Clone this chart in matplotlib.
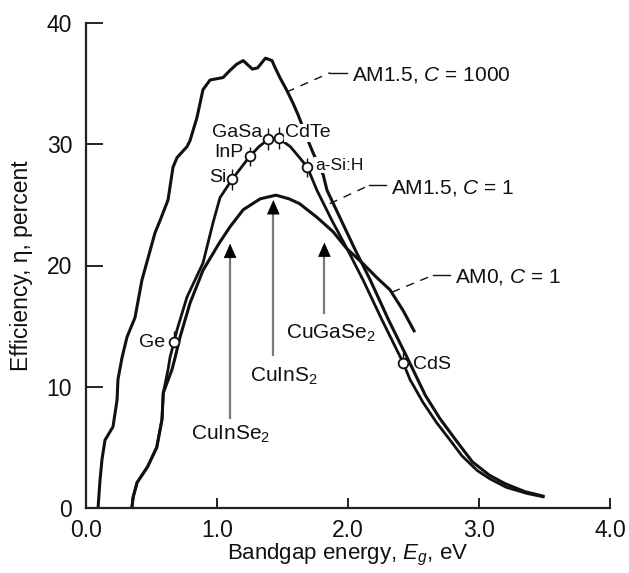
import matplotlib
matplotlib.use('Agg')
import matplotlib.pyplot as plt

plt.rcParams['font.family'] = ['Liberation Sans', 'DejaVu Sans']
plt.rcParams['mathtext.fontset'] = 'custom'
plt.rcParams['mathtext.rm'] = 'Liberation Sans'
plt.rcParams['mathtext.it'] = 'Liberation Sans:italic'
plt.rcParams['mathtext.bf'] = 'Liberation Sans:bold'

# ---------------- data ----------------
# AM1.5, C = 1000 (upper curve)
eg_c1000 = [0.092, 0.107, 0.122, 0.145, 0.206, 0.237, 0.244, 0.275, 0.313, 0.374, 0.427,
            0.527, 0.565, 0.626, 0.664, 0.695, 0.771, 0.794, 0.847, 0.893, 0.947, 1.046,
            1.10, 1.15, 1.20, 1.27, 1.31, 1.37, 1.42, 1.44, 1.48, 1.53, 1.58, 1.62,
            1.695, 1.733, 1.81, 1.84, 2.05, 2.17, 2.31, 2.47, 2.59, 2.70, 2.83, 2.95,
            3.08, 3.20, 3.35, 3.50]
eta_c1000 = [0.0, 2.3, 4.0, 5.6, 6.7, 8.9, 10.6, 12.4, 14.1, 15.7, 18.8,
             22.7, 23.7, 25.4, 28.1, 28.9, 29.8, 30.3, 32.2, 34.5, 35.3, 35.5,
             36.1, 36.6, 36.9, 36.2, 36.3, 37.1, 36.9, 36.4, 35.5, 34.5, 33.4, 32.4,
             30.3, 29.3, 27.5, 26.2, 21.4, 18.8, 15.5, 12.0, 9.3, 7.4, 5.5, 3.8,
             2.7, 2.0, 1.35, 0.95]

# AM1.5, C = 1 (curve with materials)
eg_c1 = [0.35, 0.36, 0.39, 0.47, 0.54, 0.58, 0.59, 0.626, 0.641, 0.672, 0.695, 0.771,
         0.893, 0.969, 1.023, 1.115, 1.25, 1.32, 1.39, 1.47, 1.56, 1.63, 1.69, 1.763,
         1.878, 1.992, 2.115, 2.26, 2.42, 2.473, 2.573, 2.679, 2.779, 2.87, 2.985,
         3.084, 3.21, 3.366, 3.50]
eta_c1 = [0.0, 0.9, 2.1, 3.4, 5.0, 7.3, 9.5, 11.4, 12.4, 13.7, 14.7, 17.4,
          20.2, 23.5, 25.6, 27.1, 29.0, 29.8, 30.4, 30.5, 29.8, 28.9, 28.1, 26.2,
          23.7, 21.4, 18.8, 15.5, 12.0, 10.6, 8.7, 7.0, 5.6, 4.3, 3.1,
          2.4, 1.7, 1.2, 0.9]

# AM0, C = 1
eg_am0 = [0.35, 0.36, 0.39, 0.47, 0.54, 0.58, 0.59, 0.656, 0.68, 0.718, 0.794, 0.893,
          1.02, 1.10, 1.20, 1.33, 1.45, 1.55, 1.63, 1.76, 1.885, 1.99, 2.11, 2.22,
          2.32, 2.42, 2.51]
eta_am0 = [0.0, 0.9, 2.1, 3.4, 5.0, 7.3, 9.5, 11.4, 12.4, 14.1, 16.9, 19.6,
           21.9, 23.2, 24.6, 25.5, 25.8, 25.5, 25.1, 24.0, 22.8, 21.4, 20.2, 19.0,
           18.0, 16.3, 14.5]

# materials on AM1.5, C = 1 curve
materials = ['Ge', 'Si', 'InP', 'GaSa', 'CdTe', 'a-Si:H', 'CdS']
mat_eg = [0.672, 1.115, 1.25, 1.39, 1.47, 1.69, 2.42]
mat_eta = [13.7, 27.1, 29.0, 30.4, 30.5, 28.1, 12.0]
mat_err_low = [0.0, 0.9, 0.8, 0.9, 0.9, 0.8, 0.0]
mat_err_high = [0.9, 0.9, 0.8, 0.9, 0.9, 0.8, 0.9]

# arrows for chalcopyrites
arrow_names = ['CuInSe$_2$', 'CuInS$_2$', 'CuGaSe$_2$']
arrow_eg = [1.10, 1.43, 1.82]
arrow_tip = [21.8, 25.4, 21.9]
arrow_tail = [7.4, 12.6, 16.1]

curve_names = ['AM1.5, $C$ = 1000', 'AM1.5, $C$ = 1', 'AM0, $C$ = 1']

xticks = [0.0, 1.0, 2.0, 3.0, 4.0]
xticklabels = ['0.0', '1.0', '2.0', '3.0', '4.0']
yticks = [0, 10, 20, 30, 40]
yticklabels = ['0', '10', '20', '30', '40']

# ---------------- figure ----------------
W, H = 629, 573
fig = plt.figure(figsize=(W / 100, H / 100), dpi=100)
ax = fig.add_axes([86 / W, 65 / H, 524 / W, 485 / H])
ax.set_xlim(0, 4)
ax.set_ylim(0, 40)

ink = '#111111'
ax.plot(eg_c1000, eta_c1000, color=ink, lw=2.2, clip_on=False, zorder=2,
        solid_joinstyle='round', solid_capstyle='butt')
ax.plot(eg_c1, eta_c1, color=ink, lw=2.0, clip_on=False, zorder=2,
        solid_joinstyle='round', solid_capstyle='butt')
ax.plot(eg_am0, eta_am0, color=ink, lw=2.2, clip_on=False, zorder=2,
        solid_joinstyle='round', solid_capstyle='butt')

# material markers with small vertical bars
ax.errorbar(mat_eg, mat_eta, yerr=[mat_err_low, mat_err_high], fmt='none',
            ecolor=ink, elinewidth=1.0, capsize=0, zorder=4)
ax.plot(mat_eg, mat_eta, 'o', ms=7, mfc='white', mec=ink, mew=1.3, zorder=5,
        linestyle='none')

# material labels
mat_pos = [(0.603, 13.8, 'right'), (1.076, 27.4, 'right'), (1.20, 29.5, 'right'),
           (1.344, 31.1, 'right'), (1.52, 31.1, 'left'), (1.748, 28.4, 'left'),
           (2.496, 12.0, 'left')]
mat_size = [14, 14, 14, 14, 14, 12.5, 14]
for name, (x, y, ha), fs in zip(materials, mat_pos, mat_size):
    kw = {}
    if name in ('CdTe', 'a-Si:H'):
        kw['bbox'] = dict(facecolor='white', edgecolor='none', pad=0.5)
    ax.text(x, y, name, ha=ha, va='center_baseline', fontsize=fs, color=ink,
            zorder=6, **kw)

# arrows
for x, tip, tail in zip(arrow_eg, arrow_tip, arrow_tail):
    ax.plot([x, x], [tail, tip - 0.4], color='#7a7a7a', lw=1.6, zorder=2)
    ax.annotate('', xy=(x, tip), xytext=(x, tip - 1.2),
                arrowprops=dict(arrowstyle='-|>,head_length=0.95,head_width=0.42',
                                color='black', lw=0.5, shrinkA=0, shrinkB=0),
                zorder=3)

arrow_label_pos = [(1.10, 5.6), (1.51, 10.4), (1.87, 14.0)]
for name, (x, y) in zip(arrow_names, arrow_label_pos):
    ax.text(x, y, name, ha='center', va='baseline', fontsize=15, color=ink)

# curve labels with leader lines
leader_start = [(1.53, 34.3), (1.86, 25.1), (2.336, 17.8)]
leader_knee = [(1.863, 35.9), (2.16, 26.6), (2.65, 19.2)]
leader_end = [(1.99, 35.9), (2.29, 26.6), (2.78, 19.2)]
for name, s, k, e in zip(curve_names, leader_start, leader_knee, leader_end):
    ax.plot([s[0], k[0]], [s[1], k[1]], color=ink, lw=1.0, ls=(0, (6, 5)), zorder=3)
    ax.plot([k[0], e[0]], [k[1], e[1]], color=ink, lw=1.0, zorder=3)
    ax.text(e[0] + 0.04, e[1], name, ha='left', va='center_baseline', fontsize=15,
            color=ink)

# axes styling
for side in ('top', 'right'):
    ax.spines[side].set_visible(False)
for side in ('left', 'bottom'):
    ax.spines[side].set_linewidth(1.6)
    ax.spines[side].set_color('#222222')

ax.set_xticks(xticks)
ax.set_xticklabels(xticklabels)
ax.set_yticks(yticks)
ax.set_yticklabels(yticklabels)
ax.tick_params(axis='y', direction='in', length=12, width=1.4, pad=10,
               labelsize=16.5, colors='#222222', labelcolor=ink)
ax.tick_params(axis='x', direction='in', length=7, width=1.4, pad=8,
               labelsize=16.5, colors='#222222', labelcolor=ink)

ax.set_xlabel('Bandgap energy, $E_g$, eV', fontsize=16, color=ink, labelpad=0)
ax.set_ylabel('Efficiency, η, percent', fontsize=16.5, color=ink, labelpad=10)

fig.savefig('out.png', dpi=100)
